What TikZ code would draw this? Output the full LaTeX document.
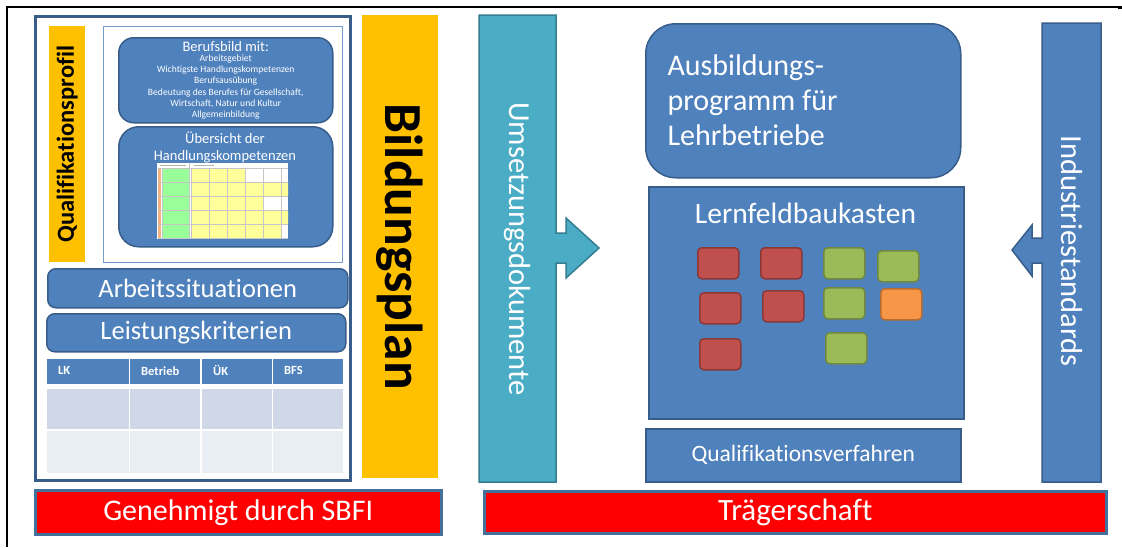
\documentclass[tikz,border=0pt]{standalone}
\usepackage{fontspec}
\setmainfont{Carlito}[Ligatures=NoCommon]

\definecolor{accblue}{HTML}{4F81BD}
\definecolor{accline}{HTML}{385D8A}
\definecolor{tealfill}{HTML}{4BACC6}
\definecolor{tealline}{HTML}{357D91}
\definecolor{gold}{HTML}{FFC000}
\definecolor{barline}{HTML}{41719C}
\definecolor{tilered}{HTML}{C0504D}
\definecolor{tileredline}{HTML}{8C3836}
\definecolor{tilegreen}{HTML}{9BBB59}
\definecolor{tilegreenline}{HTML}{71893F}
\definecolor{tileorange}{HTML}{F79646}
\definecolor{tileorangeline}{HTML}{B66D31}
\definecolor{rowa}{HTML}{D0D8E8}
\definecolor{rowb}{HTML}{E9EDF4}
\definecolor{minigreen}{HTML}{99FF99}
\definecolor{miniyellow}{HTML}{FFFF99}
\definecolor{miniorange}{HTML}{F4B183}

\begin{document}
\begin{tikzpicture}[x=1pt, y=-1pt,
  nw/.style={anchor=north west, inner sep=0pt},
  panel/.style={nw, draw=accline, line width=1.5pt, fill=accblue, text=white},
  goldbar/.style={nw, fill=gold},
  redbar/.style={nw, draw=barline, line width=2.5pt, fill=red, text=white},
  hdrcell/.style={nw, fill=accblue, minimum height=25},
  tile/.style={nw, rounded corners=4, line width=1.5pt, minimum width=41, minimum height=31},
  redtile/.style={tile, fill=tilered, draw=tileredline},
  greentile/.style={tile, fill=tilegreen, draw=tilegreenline},
  orangetile/.style={tile, fill=tileorange, draw=tileorangeline},
  vlabel/.style={rotate=-90, text=white, font=\fontsize{30.5}{36}\selectfont}
]
\useasboundingbox (0,0) rectangle (1122,547);

% page rules
\draw[line width=2pt] (1122,7) -- (7,7) -- (7,547);
\draw[line width=3pt] (1118,7) -- (1122,7);

% ---------- left column: Bildungsplan ----------
\node[nw, draw=accline, line width=2.5pt, fill=white, minimum width=315, minimum height=464] (frame) at (34,15) {};
\node[nw, draw=accblue!80, line width=1pt, fill=white, minimum width=239, minimum height=236] (innerframe) at (103,26) {};

\node[goldbar, minimum width=36, minimum height=236] (qprofil) at (49,26) {};
\node[rotate=90, font=\bfseries\fontsize{24.5}{28}\selectfont] (qprofil-label) at (qprofil.center) {Qualifikationsprofil};

\node[panel, rounded corners=15, minimum width=214, minimum height=85, align=center,
  font=\fontsize{9.6}{11.2}\selectfont] (berufsbild) at (118,37)
  {{\fontsize{14.5}{15}\selectfont Berufsbild mit:}\\[-1pt] Arbeitsgebiet\\ Wichtigste Handlungskompetenzen\\
   Berufsausübung\\ Bedeutung des Berufes für Gesellschaft,\\ Wirtschaft, Natur und Kultur\\ Allgemeinbildung};

\node[panel, rounded corners=20, minimum width=214, minimum height=120] (uebersicht) at (118,126) {};
\node[text=white, align=center, font=\fontsize{14.5}{17.5}\selectfont] (uebersicht-label) at (225,147.5)
  {Übersicht der\\Handlungskompetenzen};

% small overview sheet of competences
\node[nw, fill=white, minimum width=131, minimum height=76] (sheet) at (157,163) {};
\begin{scope}
  \clip (157,163) rectangle (288,239);
  \fill[miniorange] (158,168) rectangle (161,238);
  \fill[minigreen] (162,168) rectangle (189,238);
  \foreach \r/\n in {0/3,1/6,2/4,3/6,4/5}
    \fill[miniyellow] (191,168+14*\r) rectangle (191+18*\n,182+14*\r);
  \foreach \r in {0,...,5}
    \draw[gray!45, line width=0.3pt] (158,168+14*\r) -- (288,168+14*\r);
  \foreach \c in {0,...,6}
    \draw[gray!45, line width=0.3pt] (191+18*\c,168) -- (191+18*\c,238);
  \draw[gray!45, line width=0.3pt] (162,168) -- (162,238) (189,163) -- (189,238);
  \draw[gray!60, line width=0.4pt] (160,165.5) -- (186,165.5) (194,165.5) -- (214,165.5);
\end{scope}

\node[panel, rounded corners=8, minimum width=300, minimum height=39,
  font=\fontsize{26.5}{30}\selectfont] (arbeit) at (47,268) {Arbeitssituationen};
\node[panel, rounded corners=8, minimum width=299, minimum height=38,
  font=\fontsize{26.5}{30}\selectfont] (leistung) at (46,313) {Leistungskriterien};

% criteria table
\node[hdrcell, minimum width=82] (h-lk) at (47,359) {};
\node[hdrcell, minimum width=70] (h-betrieb) at (130,359) {};
\node[hdrcell, minimum width=70] (h-uek) at (202,359) {};
\node[hdrcell, minimum width=70] (h-bfs) at (273,359) {};
\foreach \h/\t in {h-lk/LK, h-betrieb/Betrieb, h-uek/ÜK, h-bfs/BFS}
  \node[anchor=west, inner sep=0pt, text=white, font=\bfseries\fontsize{12.5}{14}\selectfont] (\h-text) at ([xshift=11pt, yshift=1pt]\h.west) {\t};
\foreach \x/\w [count=\i] in {47/82,130/70,202/70,273/70} {
  \node[nw, fill=rowa, minimum width=\w, minimum height=40] (ra\i) at (\x,389) {};
  \node[nw, fill=rowb, minimum width=\w, minimum height=42] (rb\i) at (\x,431) {};
}

\node[goldbar, minimum width=76, minimum height=463] (bplan) at (362,15) {};
\node[rotate=-90, font=\bfseries\fontsize{53.5}{60}\selectfont] (bplan-label) at (bplan.center) {Bildungsplan};

\node[redbar, minimum width=406, minimum height=44, font=\fontsize{30}{34}\selectfont] (sbfi) at (34,489) {Genehmigt durch SBFI};

% ---------- right column: Umsetzung ----------
\path[fill=tealfill, draw=tealline, line width=1.5pt]
  (479,15) -- (556,15) -- (556,233) -- (566,233) -- (566,218) -- (599,248)
  -- (566,278) -- (566,263) -- (556,263) -- (556,482) -- (479,482) -- cycle;
\coordinate (umsetzung) at (517.5,249);
\node[vlabel] (umsetzung-label) at (umsetzung) {Umsetzungsdokumente};

\path[fill=accblue, draw=accline, line width=1.5pt]
  (1042,23) -- (1101,23) -- (1101,482) -- (1042,482) -- (1042,263) -- (1032,263)
  -- (1032,276) -- (1012,250) -- (1032,225) -- (1032,238) -- (1042,238) -- cycle;
\coordinate (industrie) at (1071.5,251);
\node[vlabel] (industrie-label) at (industrie) {Industriestandards};

\node[panel, rounded corners=30, minimum width=315, minimum height=154] (ausbildung) at (645,23) {};
\node[anchor=west, text=white, align=left, font=\fontsize{30}{35}\selectfont] (ausbildung-label)
  at (664,100) {Ausbildungs-\\programm für\\Lehrbetriebe};

\node[panel, minimum width=315, minimum height=232] (lernfeld) at (648,186) {};
\node[text=white, font=\fontsize{29.5}{34}\selectfont] (lernfeld-label) at (805.5,213) {Lernfeldbaukasten};

\node[redtile] (t1) at (697,247) {};
\node[redtile] (t2) at (760,247) {};
\node[greentile] (t3) at (823,247) {};
\node[greentile] (t4) at (877,250) {};
\node[redtile] (t5) at (699,292) {};
\node[redtile] (t6) at (762,290) {};
\node[greentile] (t7) at (823,287) {};
\node[orangetile] (t8) at (880,288) {};
\node[redtile] (t9) at (699,338) {};
\node[greentile] (t10) at (825,332) {};

\node[panel, minimum width=315, minimum height=53, font=\fontsize{23.5}{27}\selectfont] (qv) at (645,428) {Qualifikationsverfahren};

\node[redbar, minimum width=622, minimum height=42, font=\fontsize{31}{36}\selectfont] (traeger) at (483,490) {Trägerschaft};
\end{tikzpicture}
\end{document}
